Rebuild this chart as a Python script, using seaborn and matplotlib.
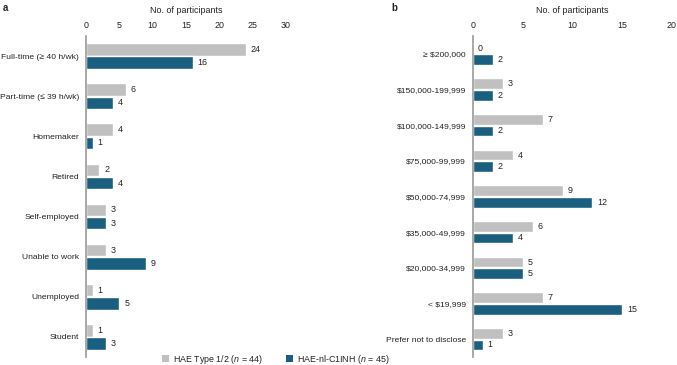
import matplotlib
matplotlib.use("Agg")
import matplotlib.pyplot as plt
import seaborn as sns
import pandas as pd
from matplotlib.patches import Patch

sns.set_theme(style="white")
plt.rcParams['font.family'] = ['Liberation Sans', 'DejaVu Sans']
plt.rcParams['mathtext.fontset'] = 'custom'
plt.rcParams['mathtext.rm'] = 'Liberation Sans'
plt.rcParams['mathtext.it'] = 'Liberation Sans:italic'

# ---- data ----
employment = ["Full-time (\u2265 40 h/wk)", "Part-time (\u2264 39 h/wk)", "Homemaker", "Retired",
              "Self-employed", "Unable to work", "Unemployed", "Student"]
emp_type12 = [24, 6, 4, 2, 3, 3, 1, 1]
emp_nlc1inh = [16, 4, 1, 4, 3, 9, 5, 3]

income = ["\u2265 $200,000", "$150,000-199,999", "$100,000-149,999", "$75,000-99,999",
          "$50,000-74,999", "$35,000-49,999", "$20,000-34,999", "< $19,999",
          "Prefer not to disclose"]
inc_type12 = [0, 3, 7, 4, 9, 6, 5, 7, 3]
inc_nlc1inh = [2, 2, 2, 2, 12, 4, 5, 15, 1]

groups = ["HAE Type 1/2 ($n$ = 44)", "HAE-nl-C1INH ($n$ = 45)"]
colors = ["#c0c0c0", "#1b5f80"]
xticks_a = [0, 5, 10, 15, 20, 25, 30]
xticks_b = [0, 5, 10, 15, 20]

def make_df(cats, v1, v2):
    return pd.DataFrame({
        "cat": cats + cats,
        "val": v1 + v2,
        "grp": [groups[0]] * len(cats) + [groups[1]] * len(cats),
    })

fig = plt.figure(figsize=(6.77, 3.65), dpi=100)
W, H = 677, 365
bottom = 8 / H
height = 321 / H
ax_a = fig.add_axes([86 / W, bottom, 200 / W, height])
ax_b = fig.add_axes([473 / W, bottom, 199 / W, height])

FS = 6.4
FSY = 6.1
txtcol = "#222222"

def draw(ax, cats, v1, v2, ticks, width):
    df = make_df(cats, v1, v2)
    sns.barplot(data=df, y="cat", x="val", hue="grp", order=cats,
                hue_order=groups, palette=colors, orient="h",
                width=width, gap=0.06, ax=ax, legend=False, saturation=1)
    for cont in ax.containers:
        ax.bar_label(cont, padding=3.5, fontsize=FS, color=txtcol)
    ax.set_xlim(ticks[0], ticks[-1])
    ax.set_ylim(len(cats) - 0.5, -0.5)
    ax.set_xticks(ticks)
    ax.xaxis.tick_top()
    ax.xaxis.set_label_position("top")
    ax.set_xlabel("No. of participants", fontsize=FS, color=txtcol, labelpad=6)
    ax.set_ylabel("")
    ax.tick_params(axis="both", length=0, colors=txtcol)
    ax.tick_params(axis="x", pad=4, labelsize=FS)
    ax.tick_params(axis="y", pad=5, labelsize=FSY)
    for s in ["top", "right", "bottom"]:
        ax.spines[s].set_visible(False)
    ax.spines["left"].set_color("#999999")
    ax.spines["left"].set_linewidth(1.2)
    ax.grid(False)

draw(ax_a, employment, emp_type12, emp_nlc1inh, xticks_a, 0.66)
draw(ax_b, income, inc_type12, inc_nlc1inh, xticks_b, 0.64)

fig.text(3 / W, 1 - 8 / H, "a", fontsize=7, fontweight="bold", va="center", ha="left")
fig.text(391 / W, 1 - 8 / H, "b", fontsize=7, fontweight="bold", va="center", ha="left")

handles = [Patch(facecolor=c, edgecolor="none") for c in colors]
fig.legend(handles, groups, loc="center", bbox_to_anchor=(276 / W, 6 / H),
           ncol=2, frameon=False, fontsize=FS, handlelength=0.8, handleheight=0.8,
           handletextpad=0.45, columnspacing=2.6, labelcolor=txtcol)

fig.savefig("out.png", dpi=100)
